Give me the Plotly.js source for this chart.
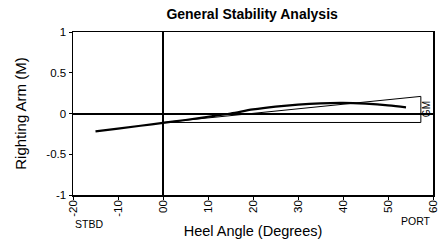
<!DOCTYPE html>
<html>
<head>
<meta charset="utf-8">
<script src="https://cdn.plot.ly/plotly-3.0.1.min.js"></script>
<style>html,body{margin:0;padding:0;background:#fff;}#chart{width:440px;height:243px;}</style>
</head>
<body>
<div id="chart"></div>
<script>
// GZ (righting arm) curve
const heelAngles = [-15, -10, -5, 0, 5, 10, 15, 20, 25, 30, 35, 40, 45, 50, 54];
const rightingArm = [-0.22, -0.185, -0.15, -0.115, -0.08, -0.04, 0.0, 0.05, 0.085, 0.11, 0.125, 0.13, 0.12, 0.10, 0.075];
// GM triangle
const gmX = [0, 57.3, 57.3, 0];
const gmY = [-0.11, 0.21, -0.11, -0.11];
// ticks
const xTickVals = [-20, -10, 0, 10, 20, 30, 40, 50, 60];
const xTickText = ['-20', '-10', '00', '10', '20', '30', '40', '50', '60'];
const yTickVals = [-1, -0.5, 0, 0.5, 1];
const yTickText = ['-1', '-0.5', '0', '0.5', '1'];

const traces = [
  {x: gmX, y: gmY, mode: 'lines', line: {color: '#000', width: 1}, hoverinfo: 'skip'},
  {x: heelAngles, y: rightingArm, mode: 'lines', line: {color: '#000', width: 2.2, shape: 'spline'}, hoverinfo: 'skip'}
];

const font = 'Liberation Sans, Arial, sans-serif';
const layout = {
  width: 440, height: 243,
  margin: {l: 73, r: 7, t: 32, b: 48},
  paper_bgcolor: '#fff', plot_bgcolor: '#fff',
  showlegend: false,
  font: {family: font, color: '#000', size: 11},
  title: {text: '<b>General Stability Analysis</b>', font: {family: font, size: 14, color: '#000'}, x: 0.573, xanchor: 'center', y: 0.94, yanchor: 'middle'},
  xaxis: {
    range: [-20, 60], tickvals: xTickVals, ticktext: xTickText, tickangle: -90,
    ticks: 'outside', ticklen: 3, tickcolor: '#000', showgrid: false, ticklabelstandoff: -4,
    zeroline: true, zerolinecolor: '#000', zerolinewidth: 2,
    showline: true, linecolor: '#000', linewidth: 1.5, mirror: true,
    tickfont: {family: font, size: 11.5},
    title: {text: 'Heel Angle (Degrees)', font: {family: font, size: 14.5}, standoff: 10}
  },
  yaxis: {
    range: [-1, 1], tickvals: yTickVals, ticktext: yTickText,
    ticks: 'outside', ticklen: 3, tickcolor: '#000', showgrid: false,
    zeroline: true, zerolinecolor: '#000', zerolinewidth: 2,
    showline: true, linecolor: '#000', linewidth: 1.5, mirror: true,
    tickfont: {family: font, size: 11.5},
    title: {text: 'Righting Arm (M)', font: {family: font, size: 15}, standoff: 16}
  },
  annotations: [
    {text: 'STBD', x: 0, xref: 'paper', y: -0.13, yref: 'paper', yanchor: 'top', xanchor: 'left', showarrow: false, font: {family: font, size: 10.5}},
    {text: 'PORT', x: 1, xref: 'paper', y: -0.11, yref: 'paper', yanchor: 'top', xanchor: 'right', showarrow: false, font: {family: font, size: 10.5}},
    {text: 'GM', x: 58.6, y: 0.05, xref: 'x', yref: 'y', textangle: -90, showarrow: false, font: {family: font, size: 10}}
  ]
};
Plotly.newPlot('chart', traces, layout, {displayModeBar: false, staticPlot: true});
</script>
</body>
</html>
